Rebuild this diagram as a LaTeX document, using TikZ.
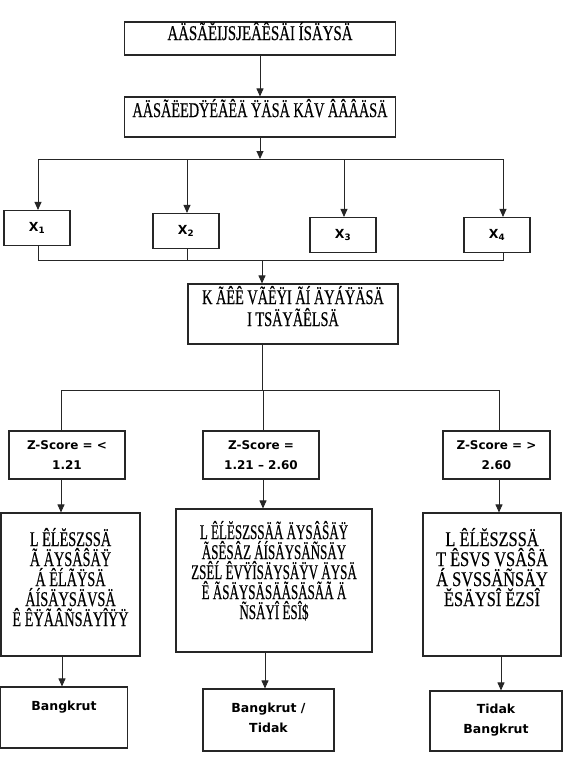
\documentclass[tikz,border=0pt]{standalone}
\usepackage{fontspec}
\usetikzlibrary{arrows.meta}
\newfontfamily\gfont[FakeStretch=0.68,FakeBold=0.4]{Liberation Serif}
\newfontfamily\gfontn[FakeStretch=0.62,FakeBold=0.4]{Liberation Serif}
\newfontfamily\gfontm[FakeStretch=0.71,FakeBold=0.4]{Liberation Serif}
\newfontfamily\gfontw[FakeStretch=0.78,FakeBold=0.4]{Liberation Serif}
\newfontfamily\vfont{DejaVu Sans}
\newcommand{\topbox}[4]{\parbox[c][#2][t]{#1}{\centering\vspace*{#3}#4\par}}
\begin{document}
\begin{tikzpicture}[x=1pt,y=-1pt,
  box/.style={draw=black!85,line width=1.1pt,inner sep=0pt,align=center},
  garble/.style={font=\gfont\fontsize{21}{20}\selectfont},
  garblen/.style={font=\gfontn\fontsize{21}{20}\selectfont},
  garblem/.style={font=\gfontm\fontsize{21}{20}\selectfont},
  garblew/.style={font=\gfontw\fontsize{21}{20}\selectfont},
  lab/.style={font=\vfont\bfseries\fontsize{12}{20.5}\selectfont},
  labb/.style={font=\vfont\bfseries\fontsize{12.5}{20}\selectfont},
  xlab/.style={font=\vfont\bfseries\fontsize{12.5}{14}\selectfont},
  conn/.style={draw=black!85,line width=0.9pt},
  arr/.style={conn,-{Triangle[length=8pt,width=7pt]}}]
\path[use as bounding box] (0,0) rectangle (566,758);

% top boxes
\node[box,garblem] (t1) at (260,38.5) {\topbox{271pt}{33pt}{0pt}{AÄSÃĔIJSJEÂÊSÄI ÍSÄYSÄ}};
\node[box,garble] (t2) at (260,117) {\topbox{271pt}{40pt}{2pt}{AÄSÃËEDŸÉÃÊÄ ŸÄSÄ KÂV ÂÂÂÄSÄ}};
\draw[arr] (t1) -- (t2);

% bus 1
\coordinate (b0) at (260,159);
\coordinate (b1) at (38,159);
\coordinate (b2) at (187,159);
\coordinate (b3) at (344,159);
\coordinate (b4) at (503,159);
\draw[arr] (t2) -- (b0);
\draw[conn] (b1) -- (b4);

% X boxes
\node[box,xlab,minimum width=66pt,minimum height=35pt] (x1) at (37,228) {X\textsubscript{1}};
\node[box,xlab,minimum width=66pt,minimum height=35pt] (x2) at (186,231) {X\textsubscript{2}};
\node[box,xlab,minimum width=66pt,minimum height=35pt] (x3) at (343,235) {X\textsubscript{3}};
\node[box,xlab,minimum width=66pt,minimum height=35pt] (x4) at (497,235) {X\textsubscript{4}};
\draw[arr] (b1) -- (b1 |- x1.north);
\draw[arr] (b2) -- (b2 |- x2.north);
\draw[arr] (b3) -- (b3 |- x3.north);
\draw[arr] (b4) -- (b4 |- x4.north);

% bus 2
\coordinate (c1) at (38,260);
\coordinate (c2) at (187,260);
\coordinate (c4) at (503,260);
\coordinate (c0) at (262,260);
\draw[conn] (c1 |- x1.south) -- (c1) -- (c4) -- (c4 |- x4.south);
\draw[conn] (c2 |- x2.south) -- (c2);

% K box
\node[box,garble] (k) at (293,314) {\topbox{210pt}{60pt}{2pt}{K ÃÊÊ VÃÊŸI ÃÍ ÄYÁŸÄSÄ\\[2pt]I TSÄYÃÊLSÄ}};
\draw[arr] (c0) -- (c0 |- k.north);

% bus 3
\coordinate (d0) at (262,390);
\coordinate (d1) at (61,390);
\coordinate (d2) at (263,390);
\coordinate (d3) at (499,390);
\draw[conn] (d0 |- k.south) -- (d0);
\draw[conn] (d1) -- (d3);

% Z boxes
\node[box,lab,minimum width=116pt,minimum height=48pt] (z1) at (67,455) {Z-Score = <\\1.21};
\node[box,lab,minimum width=116pt,minimum height=48pt] (z2) at (261,455) {Z-Score =\\1.21 – 2.60};
\node[box,lab,minimum width=107pt,minimum height=48pt] (z3) at (496.5,455) {Z-Score = >\\2.60};
\draw[conn] (d1) -- (d1 |- z1.north);
\draw[conn] (d2) -- (d2 |- z2.north);
\draw[conn] (d3) -- (d3 |- z3.north);

% big boxes
\node[box,garble] (g1) at (70.5,584.5) {\topbox{139pt}{143pt}{15pt}{L ÊĹĔSZSSÄ\\Ã ÄYSÂŜÄŸ\\Á ÊĹÃŸSÄ\\ÁÍSÄYSÄVSÄ\\Ê ÊŸÃÂÑSÄYÎŸŸ}};
\node[box,garblen] (g2) at (274,580.5) {\topbox{196pt}{143pt}{12pt}{L ÊĹĔSZSSÄÃ ÄYSÂŜÄŸ\\ÃSÊSÂZ ÁÍSÄYSÄÑSÄY\\ZSÊĹ ÊVŸÎSÄYSÄŸV ÄYSÄ\\Ê ÃSÄYSÄSÄÃSÄSÃÃ Ä\\ÑSÄYÎ ÊSÎ\$}};
\node[box,garblew] (g3) at (492,584.5) {\topbox{138pt}{143pt}{15pt}{L ÊĹĔSZSSÄ\\T ÊSVS VSÂŜÄ\\Á SVSSÄÑSÄY\\ĔSÄYSÎ ĔZSÎ}};
\draw[arr] (d1 |- z1.south) -- (d1 |- g1.north);
\draw[arr] (d2 |- z2.south) -- (d2 |- g2.north);
\draw[arr] (d3 |- z3.south) -- (d3 |- g3.north);

% final boxes
\node[box,labb] (f1) at (64,717.5) {\topbox{127pt}{61pt}{14pt}{Bangkrut}};
\node[box,labb] (f2) at (268.5,720) {\topbox{131pt}{62pt}{14pt}{Bangkrut /\\Tidak}};
\node[box,labb] (f3) at (496,721) {\topbox{132pt}{60pt}{13pt}{Tidak\\Bangkrut}};
\coordinate (e1) at (62,0);
\coordinate (e2) at (265,0);
\coordinate (e3) at (501,0);
\draw[arr] (e1 |- g1.south) -- (e1 |- f1.north);
\draw[arr] (e2 |- g2.south) -- (e2 |- f2.north);
\draw[arr] (e3 |- g3.south) -- (e3 |- f3.north);
\end{tikzpicture}
\end{document}
